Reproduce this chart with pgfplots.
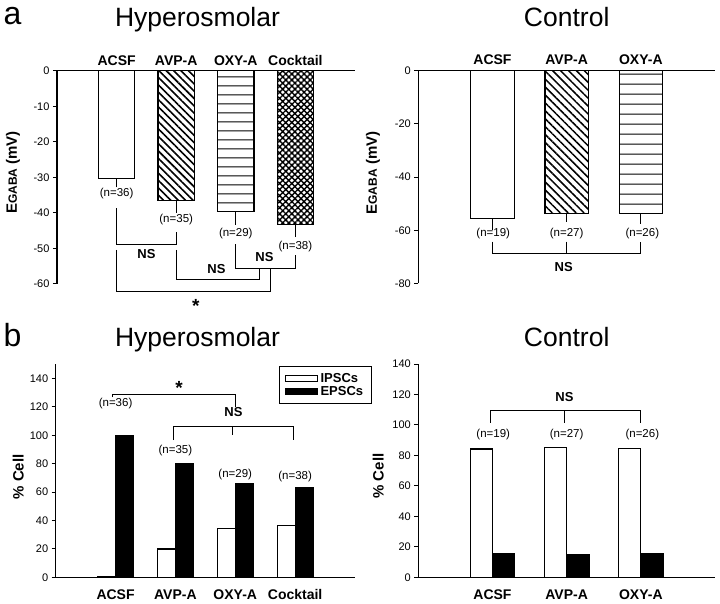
\documentclass[border=0pt]{standalone}
\usepackage{pgfplots}
\pgfplotsset{compat=1.18}
\usepackage{fontspec}
\setmainfont{Liberation Sans}
\usetikzlibrary{patterns,patterns.meta}
\pgfdeclarepatternformonly{hlinesA}{\pgfpoint{0pt}{0pt}}{\pgfpoint{30pt}{9pt}}{\pgfpoint{30pt}{9pt}}{%
  \pgfpathrectangle{\pgfpoint{-1pt}{3.95pt}}{\pgfpoint{32pt}{1.1pt}}\pgfusepath{fill}}
\pgfdeclarepatternformonly{hlinesB}{\pgfpoint{0pt}{0pt}}{\pgfpoint{30pt}{10.4pt}}{\pgfpoint{30pt}{10.4pt}}{%
  \pgfpathrectangle{\pgfpoint{-1pt}{4.65pt}}{\pgfpoint{32pt}{1.1pt}}\pgfusepath{fill}}
\newcommand{\tickfont}{\fontsize{11}{12}\selectfont}
\newcommand{\nfont}{\fontsize{11.5}{12}\selectfont}
\newcommand{\nsfont}{\bfseries\fontsize{13}{14}\selectfont}
\newcommand{\catfont}{\bfseries\fontsize{14}{15}\selectfont}
\newcommand{\titlefont}{\fontsize{26.5}{27}\selectfont}
\newcommand{\letterfont}{\fontsize{32}{32}\selectfont}
\newcommand{\starfont}{\bfseries\fontsize{19}{19}\selectfont}
\pgfplotsset{
  base/.style={
    scale only axis,
    clip=false,
    axis line style={line width=1.1pt},
    tick style={line width=1pt, black},
    major tick length=4pt,
    tick align=outside,
    axis y line*=left,
    xtick style={draw=none},
    /pgf/number format/assume math mode=true,
    tick label style={font=\tickfont},
    xticklabel style={font=\catfont},
    ylabel style={font=\bfseries\fontsize{15}{16}\selectfont, anchor=center},
    error bars/y dir=minus,
    error bars/y explicit,
    error bars/error bar style={line width=1pt, black},
    error bars/error mark options={line width=1pt, mark size=3pt, black},
  },
  barst/.style={draw=black, line width=1.2pt},
}
\begin{document}
\begin{tikzpicture}
\useasboundingbox (0,0) rectangle (720pt,603pt);

% panel letters and titles
\node[font=\letterfont, anchor=base, inner sep=0pt] at (12.5pt,578pt) {a};
\node[font=\letterfont, anchor=base, inner sep=0pt] at (12.5pt,256.3pt) {b};
\node[font=\titlefont, anchor=base, inner sep=0pt] at (197.5pt,576.3pt) {Hyperosmolar};
\node[font=\titlefont, anchor=base, inner sep=0pt] at (566.7pt,576.3pt) {Control};
\node[font=\titlefont, anchor=base, inner sep=0pt] at (197.5pt,256.3pt) {Hyperosmolar};
\node[font=\titlefont, anchor=base, inner sep=0pt] at (566.7pt,256.3pt) {Control};

% ---------------- a, Hyperosmolar
\begin{axis}[base,
  at={(57pt,319pt)}, anchor=south west, width=298pt, height=213.3pt,
  axis x line*=top,
  xmin=0, xmax=5, ymin=-60, ymax=0,
  ytick={-60,-50,-40,-30,-20,-10,0},
  yticklabels={-60,-50,-40,-30,-20,-10,0},
  xtick={1,2,3,4}, xticklabels={ACSF,AVP-A,OXY-A,Cocktail},
  xticklabel style={yshift=-2pt},
  ybar, bar width=0.61, bar shift=0pt,
  ylabel={E{\fontsize{12}{12}\selectfont GABA} (mV)},
  ylabel style={at={(rel axis cs:-0.148,0.523)}},
]
\addplot[barst, fill=white] coordinates {(1,-30.3) +- (0,1.7)};
\addplot[barst, pattern={Lines[angle=-45,distance=5.2pt,line width=1.6pt]}] coordinates {(2,-36.6) +- (0,2.5)};
\addplot[barst, pattern=hlinesA] coordinates {(3,-39.5) +- (0,3.0)};
\addplot[barst, pattern={Hatch[angle=45,distance=4.3pt,line width=1.4pt]}] coordinates {(4,-43.3) +- (0,2.7)};
\node[font=\nfont] at (axis cs:1,-34.5) {(n=36)};
\node[font=\nfont] at (axis cs:2,-42) {(n=35)};
\node[font=\nfont] at (axis cs:3,-45.7) {(n=29)};
\node[font=\nfont] at (axis cs:4,-49.5) {(n=38)};
\draw[line width=1pt] (axis cs:1,-38.7) |- (axis cs:2,-48.8) -- (axis cs:2,-45.3);
\draw[line width=1pt] (axis cs:1,-50.4) |- (axis cs:3.58,-62.2) -- (axis cs:3.58,-55.6);
\draw[line width=1pt] (axis cs:2,-50.4) |- (axis cs:3.39,-58.7) -- (axis cs:3.39,-55.6);
\draw[line width=1pt] (axis cs:3,-48.8) |- (axis cs:4,-55.6) -- (axis cs:4,-51.8);
\node[font=\nsfont] at (axis cs:1.50,-51.6) {NS};
\node[font=\nsfont] at (axis cs:2.675,-55.8) {NS};
\node[font=\nsfont] at (axis cs:3.48,-52.5) {NS};
\node[font=\starfont, yshift=-4.5pt] at (axis cs:2.33,-64.8) {*};
\end{axis}

% ---------------- a, Control
\begin{axis}[base,
  at={(418.3pt,319.5pt)}, anchor=south west, width=296.7pt, height=213pt,
  axis x line*=top,
  xmin=0, xmax=4, ymin=-80, ymax=0,
  ytick={-80,-60,-40,-20,0},
  yticklabels={-80,-60,-40,-20,0},
  xtick={1,2,3}, xticklabels={ACSF,AVP-A,OXY-A},
  xticklabel style={yshift=-2pt},
  ybar, bar width=0.585, bar shift=0pt,
  ylabel={E{\fontsize{12}{12}\selectfont GABA} (mV)},
  ylabel style={at={(rel axis cs:-0.153,0.519)}},
]
\addplot[barst, fill=white] coordinates {(1,-55.5) +- (0,3.1)};
\addplot[barst, pattern={Lines[angle=-45,distance=5.6pt,line width=1.5pt]}] coordinates {(2,-53.6) +- (0,2.0)};
\addplot[barst, pattern=hlinesB] coordinates {(3,-53.6) +- (0,2.9)};
\node[font=\nfont] at (axis cs:1.01,-61.1) {(n=19)};
\node[font=\nfont] at (axis cs:2,-61.1) {(n=27)};
\node[font=\nfont] at (axis cs:3.02,-61.1) {(n=26)};
\draw[line width=1pt] (axis cs:1,-64.3) |- (axis cs:3,-68.9) -- (axis cs:3,-64.3);
\draw[line width=1pt] (axis cs:2,-64.3) -- (axis cs:2,-68.9);
\node[font=\nsfont] at (axis cs:1.96,-73.7) {NS};
\end{axis}

% ---------------- b, Hyperosmolar
\begin{axis}[base,
  at={(55.7pt,25.7pt)}, anchor=south west, width=299.3pt, height=213pt,
  axis x line*=bottom,
  xmin=0, xmax=5, ymin=0, ymax=150,
  ytick={0,20,40,60,80,100,120,140},
  xtick={1,2,3,4}, xticklabels={ACSF,AVP-A,OXY-A,Cocktail},
  xticklabel style={yshift=-5pt},
  ybar=0pt, bar width=0.3,
  ylabel={\% Cell},
  ylabel style={at={(rel axis cs:-0.125,0.471)}},
  legend image code/.code={\draw[#1, line width=1pt] (0pt,-2.8pt) rectangle (31.6pt,2.8pt);},
  legend cell align=left,
  legend style={at={(rel axis cs:0.746,0.992)}, anchor=north west,
    draw=black, line width=1pt, inner xsep=6pt, inner ysep=5.5pt,
    font=\bfseries\fontsize{13}{12}\selectfont,
    nodes={inner ysep=1.2pt, inner xsep=2.5pt}},
]
\addplot[barst, fill=white] coordinates {(1,0.7) (2,20) (3,34.3) (4,36.5)};
\addplot[barst, fill=black] coordinates {(1,100) (2,80) (3,65.7) (4,63.3)};
\legend{IPSCs,EPSCs}
\node[font=\nfont] at (axis cs:1,122.3) {(n=36)};
\node[font=\nfont] at (axis cs:2,89.6) {(n=35)};
\node[font=\nfont] at (axis cs:3,72.7) {(n=29)};
\node[font=\nfont] at (axis cs:4,71.3) {(n=38)};
\draw[line width=1pt] (axis cs:0.95,126.8) |- (axis cs:3,128.4) -- (axis cs:3,120.1);
\node[font=\starfont, yshift=-4.5pt] at (axis cs:2.06,136.6) {*};
\draw[line width=1pt] (axis cs:1.96,96.6) |- (axis cs:3.97,106.1) -- (axis cs:3.97,96.6);
\draw[line width=1pt] (axis cs:2.96,106.1) -- (axis cs:2.96,100.2);
\node[font=\nsfont] at (axis cs:2.97,116.6) {NS};
\end{axis}

% ---------------- b, Control
\begin{axis}[base,
  at={(418.3pt,25.7pt)}, anchor=south west, width=296.7pt, height=213.3pt,
  axis x line*=bottom,
  xmin=0, xmax=4, ymin=0, ymax=140,
  ytick={0,20,40,60,80,100,120,140},
  xtick={1,2,3}, xticklabels={ACSF,AVP-A,OXY-A},
  xticklabel style={yshift=-5pt},
  ybar=0pt, bar width=0.3,
  ylabel={\% Cell},
  ylabel style={at={(rel axis cs:-0.135,0.475)}},
]
\addplot[barst, fill=white] coordinates {(1,84.2) (2,85.3) (3,84.7)};
\addplot[barst, fill=black] coordinates {(1,15.8) (2,15.1) (3,15.8)};
\node[font=\nfont] at (axis cs:1.01,93.4) {(n=19)};
\node[font=\nfont] at (axis cs:2,93.4) {(n=27)};
\node[font=\nfont] at (axis cs:3.02,93.4) {(n=26)};
\draw[line width=1pt] (axis cs:0.97,101.5) |- (axis cs:2.99,109.6) -- (axis cs:2.99,101.5);
\draw[line width=1pt] (axis cs:1.97,109.6) -- (axis cs:1.97,101.5);
\node[font=\nsfont] at (axis cs:1.97,118.5) {NS};
\end{axis}
\end{tikzpicture}
\end{document}
